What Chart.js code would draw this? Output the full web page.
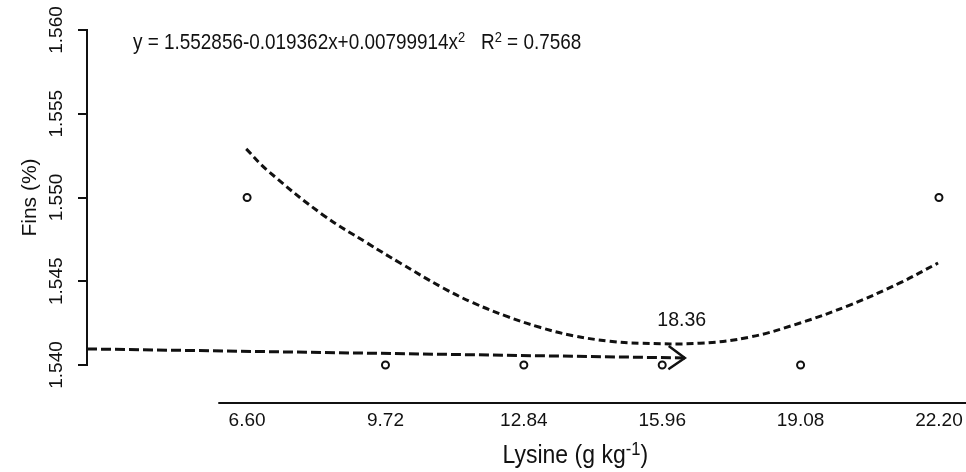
<!DOCTYPE html>
<html lang="en">
<head>
<meta charset="UTF-8" />
<title>Fins vs Lysine</title>
<script src="https://cdn.jsdelivr.net/npm/chart.js@4"></script>
<style>
  html, body { margin: 0; padding: 0; background: #fff; }
  #wrap { width: 966px; height: 472px; }
</style>
</head>
<body>
<div id="wrap"><canvas id="chart"></canvas></div>
<script>
// observed means
const lysine = [6.60, 9.72, 12.84, 15.96, 19.08, 22.20];
const fins = [1.550, 1.540, 1.540, 1.540, 1.540, 1.550];

// quadratic fit
const curveX = [6.58, 7.05, 8.31, 9.31, 10.05, 11.02, 11.69, 12.46, 13.20, 13.95, 14.78, 15.46, 16.81, 17.94, 19.07, 20.19, 21.32, 22.18];
const curveY = [1.55290, 1.55164, 1.54896, 1.54728, 1.54609, 1.54460, 1.54372, 1.54290, 1.54225, 1.54175, 1.54142, 1.54130, 1.54130, 1.54167, 1.54251, 1.54358, 1.54490, 1.54609];

// arrow pointing at the optimum
const arrowX = [2.99, 16.47];
const arrowY = [1.54096, 1.54042];
const optimumText = "18.36";

const equationParts = [
  { t: "y = 1.552856-0.019362x+0.00799914x" }, { t: "2", sup: true },
  { t: "   R" }, { t: "2", sup: true }, { t: " = 0.7568" }
];
const xTitleParts = [{ t: "Lysine (g kg" }, { t: "-1", sup: true }, { t: ")" }];
const yTitle = "Fins (%)";

const ink = "#111";
const fam = "'Liberation Sans', Arial, sans-serif";

// text with superscripts, squeezed horizontally to look like a narrow face
function drawRich(ctx, parts, x, y, size, align, squeeze) {
  const supSize = Math.round(size * 0.7);
  const widths = parts.map(p => {
    ctx.font = (p.sup ? supSize : size) + "px " + fam;
    return ctx.measureText(p.t).width;
  });
  const total = widths.reduce((a, b) => a + b, 0) * squeeze;
  const startX = align === "center" ? x - total / 2 : x;
  ctx.save();
  ctx.translate(startX, y);
  ctx.scale(squeeze, 1);
  ctx.textAlign = "left";
  ctx.textBaseline = "alphabetic";
  let cx = 0;
  parts.forEach((p, i) => {
    ctx.font = (p.sup ? supSize : size) + "px " + fam;
    ctx.fillText(p.t, cx, p.sup ? -size * 0.33 : 0);
    cx += widths[i];
  });
  ctx.restore();
}

const annotate = {
  id: "annotate",
  afterDatasetsDraw(chart) {
    const { ctx, chartArea, scales: { x, y } } = chart;
    ctx.save();
    ctx.strokeStyle = ink;
    ctx.fillStyle = ink;

    // detached x axis line
    const axisY = chartArea.bottom + 38;
    ctx.lineWidth = 2.2;
    ctx.beginPath();
    ctx.moveTo(x.getPixelForValue(5.95), axisY);
    ctx.lineTo(chartArea.right, axisY);
    ctx.stroke();

    // arrow head
    const pts = chart.getDatasetMeta(1).data;
    const tip = pts[pts.length - 1], tail = pts[0];
    const ang = Math.atan2(tip.y - tail.y, tip.x - tail.x);
    ctx.lineWidth = 2.5;
    ctx.beginPath();
    ctx.moveTo(tip.x - 20 * Math.cos(ang - 0.62), tip.y - 20 * Math.sin(ang - 0.62));
    ctx.lineTo(tip.x, tip.y);
    ctx.lineTo(tip.x - 20 * Math.cos(ang + 0.62), tip.y - 20 * Math.sin(ang + 0.62));
    ctx.stroke();

    // optimum label
    drawRich(ctx, [{ t: optimumText }], x.getPixelForValue(16.4), y.getPixelForValue(1.5423), 21, "center", 0.93);

    // equation
    drawRich(ctx, equationParts, chartArea.left + 46, chartArea.top + 19, 22, "left", 0.86);

    // x title
    drawRich(ctx, xTitleParts, x.getPixelForValue(14.0), chartArea.bottom + 98, 25, "center", 0.92);
    ctx.restore();
  }
};

new Chart(document.getElementById("chart"), {
  type: "scatter",
  data: {
    datasets: [
      {
        data: curveX.map((v, i) => ({ x: v, y: curveY[i] })),
        showLine: true,
        borderColor: ink,
        borderWidth: 3,
        borderDash: [7, 4],
        pointRadius: 0,
        tension: 0.4,
        clip: false
      },
      {
        data: arrowX.map((v, i) => ({ x: v, y: arrowY[i] })),
        showLine: true,
        borderColor: ink,
        borderWidth: 3,
        borderDash: [10, 4],
        pointRadius: 0,
        clip: false
      },
      {
        data: lysine.map((v, i) => ({ x: v, y: fins[i] })),
        pointRadius: 3.5,
        borderWidth: 2,
        pointBorderColor: ink,
        pointBackgroundColor: "#fff",
        clip: false
      }
    ]
  },
  options: {
    responsive: true,
    maintainAspectRatio: false,
    animation: false,
    layout: { autoPadding: false, padding: { top: 30, right: 0, bottom: 0, left: 0 } },
    plugins: { legend: { display: false }, tooltip: { enabled: false } },
    scales: {
      x: {
        type: "linear",
        min: 2.99,
        max: 22.81,
        grid: { display: false, drawTicks: false },
        border: { display: false },
        afterBuildTicks: s => { s.ticks = lysine.map(v => ({ value: v })); },
        afterFit: s => { s.height = 107; s.paddingLeft = 0; s.paddingRight = 0; },
        ticks: {
          padding: 44,
          color: ink,
          font: { family: fam, size: 19 },
          callback: v => Number(v).toFixed(2)
        }
      },
      y: {
        min: 1.540,
        max: 1.560,
        afterFit: s => { s.width = 87; s.paddingTop = 0; s.paddingBottom = 0; },
        grid: { display: true, drawOnChartArea: false, drawTicks: true, tickLength: 9, color: ink, lineWidth: 2 },
        border: { display: true, color: ink, width: 2 },
        title: { display: true, text: yTitle, color: ink, font: { family: fam, size: 21 }, padding: { top: 18, bottom: 0 } },
        ticks: {
          stepSize: 0.005,
          minRotation: 90,
          maxRotation: 90,
          crossAlign: "center",
          padding: -3,
          color: ink,
          font: { family: fam, size: 19 },
          callback: v => Number(v).toFixed(3)
        }
      }
    }
  },
  plugins: [annotate]
});
</script>
</body>
</html>
